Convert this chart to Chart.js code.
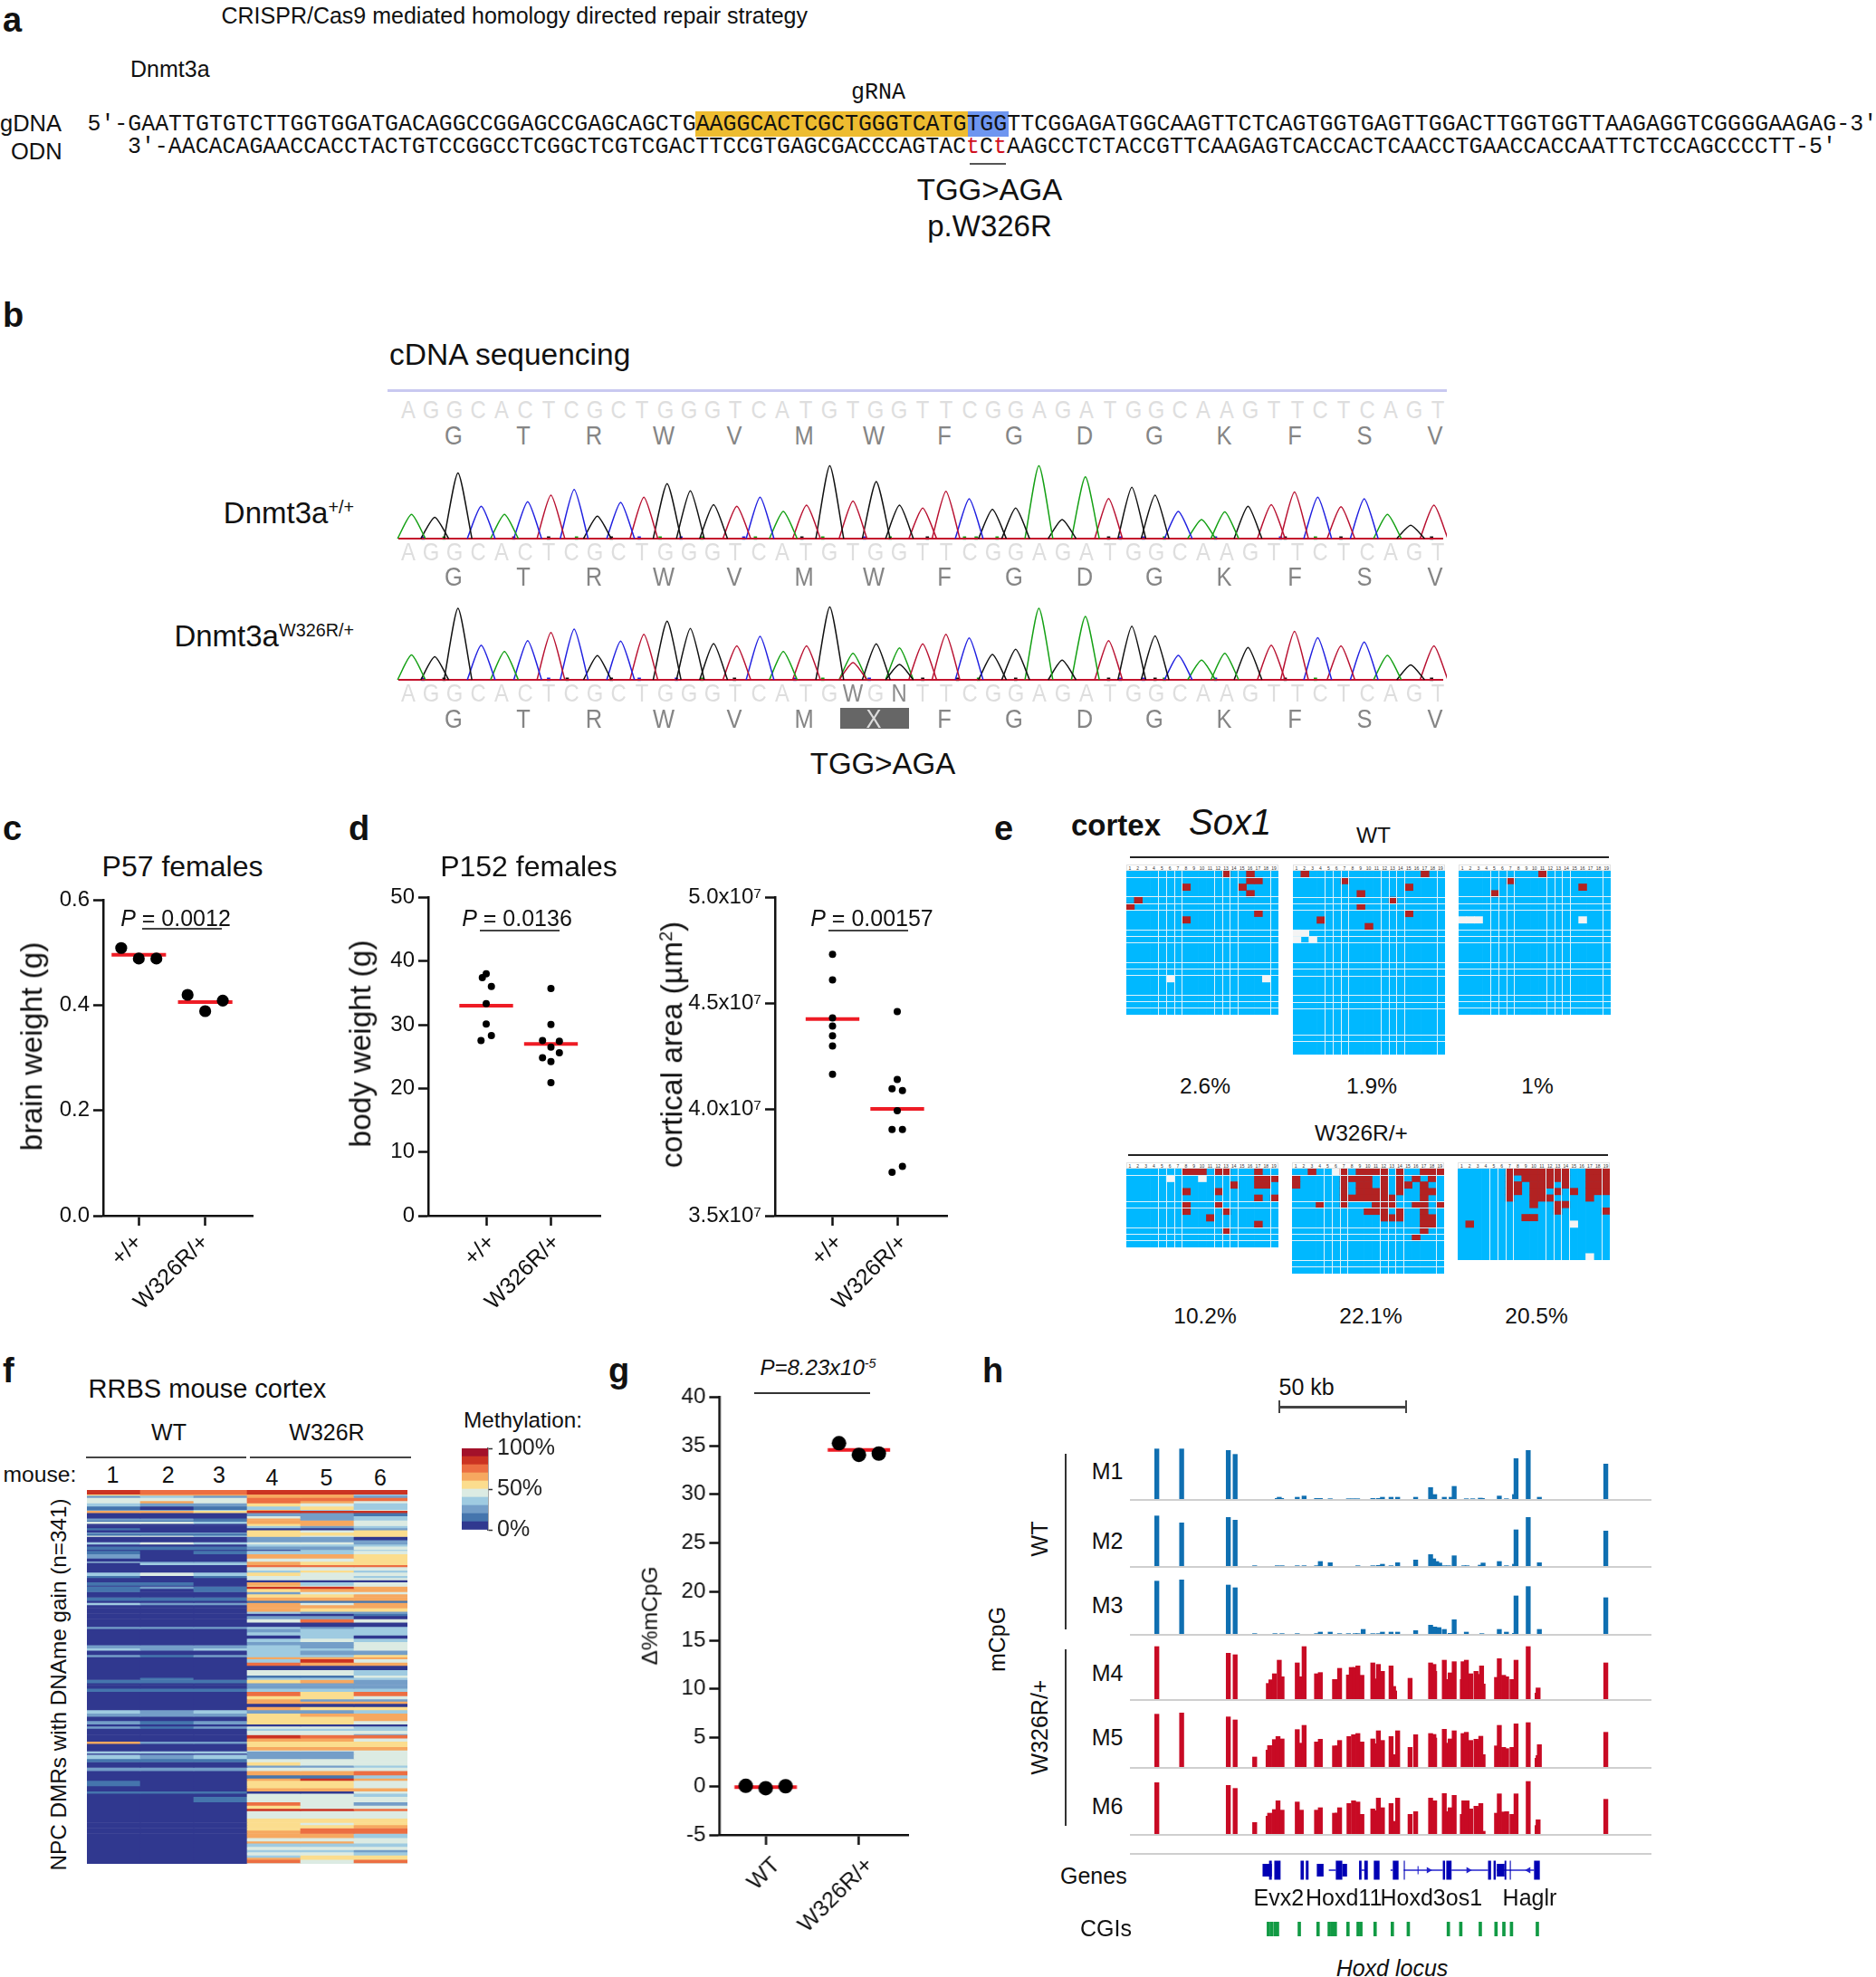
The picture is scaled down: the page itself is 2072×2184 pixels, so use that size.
<!DOCTYPE html>
<html>
<head>
<meta charset="utf-8">
<title>Dnmt3a W326R</title>
<script src="https://cdn.jsdelivr.net/npm/chart.js@4/dist/chart.umd.min.js"></script>
<style>
  html, body { margin: 0; padding: 0; background: #fff; }
  #page { position: relative; width: 2072px; height: 2184px; overflow: hidden; background: #fff; font-family: 'Liberation Sans', Arial, sans-serif; color: #111; }
  #page canvas { position: absolute; }
  .t { position: absolute; line-height: 1; white-space: pre; }
  .t sup { font-size: 0.6em; line-height: 0; vertical-align: 0.55em; }
  .r { position: absolute; }
</style>
</head>
<body>
<div id="page"></div>
<script>
'use strict';

// --- panel a
const gDnaHead = "5′-GAATTGTGTCTTGGTGGATGACAGGCCGGAGCCGAGCAGCTGAAGGCACTCGCTGGGTCATGTGG";
const gDnaTail = "TTCGGAGATGGCAAGTTCTCAGTGGTGAGTTGGACTTGGTGGTTAAGAGGTCGGGGAAGAG-3′";
const odnLeft = "3′-AACACAGAACCACCTACTGTCCGGCCTCGGCTCGTCGACTTCCGTGAGCGACCCAGTAC";
const odnRight = "AAGCCTCTACCGTTCAAGAGTCACCACTCAACCTGAACCACCAATTCTCCAGCCCCTT-5′";

// --- panel b, one letter / one peak per base
const baseCalls = "AGGCACTCGCTGGGTCATGTGGTTCGGAGATGGCAAGTTCTCAGT";
const baseCallsMut = "AGGCACTCGCTGGGTCATGWGNTTCGGAGATGGCAAGTTCTCAGT";
const aminoAcids = ['G','T','R','W','V','M','W','F','G','D','G','K','F','S','V'];
const peaksWt = [84,74,228,112,84,128,151,170,78,126,144,191,166,118,112,144,94,116,253,130,198,116,106,164,138,101,106,253,66,214,139,178,151,94,66,93,112,118,162,144,111,138,84,46,116];
const peaksMut = [86,80,248,120,98,136,164,176,84,134,158,203,178,126,118,151,98,118,253,60,125,53,125,158,145,88,106,248,68,220,136,186,152,85,68,92,112,120,168,146,118,131,85,52,118];
const mutExtraBase = [20,22];
const mutExtraPeak = [92,111];
const lowBlack = [6.9,9.6,17.8,23.2,31,38.6,41,44.9];
const lowBlue = [1.5,10.8,12.6,15.3,20.5,31.5,32.5,35.6,38.4];
const lowGreen = [2.4,8.1,11.7,13.5,15.8,18.7,21.6,24.8,25.3,26.2,33.4,39.9];
const lowBlack2 = [2.4,7.7,9.6,14.9,23,24.5,27,31,33,38.6,44.9];
const lowBlue2 = [1.5,6.9,10.8,12.4,17.5,20.7,31.5,32.5,35.6];
const lowGreen2 = [13.5,18.7,25.4,33.4,39.9];

// --- panels c, d, g
const brainWt = [0.509,0.489,0.489];
const brainMut = [0.42,0.389,0.409];
const brainMedian = [0.496,0.406];
const brainOffset = [-0.265,0,0.265];
const bodyWt = [38.0,37.4,36.0,33.3,30.1,28.3,27.5];
const bodyWtOffset = [0,-0.06,0.08,0,0,0.08,-0.08];
const bodyMut = [35.7,30.05,27.5,27.4,26.5,25.6,24.8,24.2,20.9];
const bodyMutOffset = [0,0,-0.13,0.13,0,0.13,-0.13,0,0];
const bodyMedian = [33.0,27.0];
const areaWt = [4.732e7,4.611e7,4.432e7,4.394e7,4.348e7,4.30e7,4.167e7];
const areaMut = [4.462e7,4.142e7,4.098e7,4.09e7,3.995e7,3.906e7,3.906e7,3.732e7,3.705e7];
const areaMutOffset = [0,0,-0.08,0.08,0,-0.08,0.08,0.08,-0.08];
const areaMedian = [4.427e7,4.003e7];
const mcpgWt = [0.04,-0.2,0];
const mcpgMut = [35.26,34.07,34.2];
const mcpgMedian = [-0.1,34.56];
const mcpgOffset = [-0.2136,0,0.2136];

// --- panel e, cells as [column, row]
const gridCols = [0,1,2,3,4,5,6,7,8,9,10,11,12,13,14,15,16,17,18];
const gridColLines = [4,5,6,7,11,12,13,14,18];
const wtRowLines = [1,4,5,6,9,10,11,14,15,16,19,20,21,25,26];
const mutRowLines = [1,5,6,9,10,11,14,15];
const ctxWt1 = [[12,0],[15,0],[15,1],[16,1],[7,2],[14,2],[15,3],[1,4],[0,5],[16,6],[7,7]];
const ctxWt1Blank = [[5,16],[17,16]];
const ctxWt2 = [[1,0],[16,0],[6,1],[14,2],[8,3],[12,4],[8,5],[14,6],[3,7],[9,8]];
const ctxWt2Blank = [[0,9],[1,9],[0,10],[2,10]];
const ctxWt3 = [[10,0],[6,1],[15,2],[4,3]];
const ctxWt3Blank = [[0,7],[1,7],[2,7],[15,7]];
const ctxMut1 = [[7,0],[8,0],[9,0],[11,0],[12,0],[16,0],[16,1],[17,1],[18,1],[16,2],[17,2],[13,2],[7,3],[11,3],[16,4],[18,4],[7,5],[11,5],[7,6],[12,6],[10,7],[16,8],[12,9]];
const ctxMut1Blank = [[5,1],[9,1]];
const ctxMut2 = [[2,0],[6,0],[8,0],[9,0],[10,0],[11,0],[13,0],[16,0],[17,0],[18,0],
  [0,1],[6,1],[7,1],[8,1],[9,1],[11,1],[13,1],[15,1],[17,1],
  [0,2],[6,2],[8,2],[9,2],[11,2],[13,2],[14,2],[16,2],
  [6,3],[8,3],[9,3],[10,3],[11,3],[13,3],[16,3],[17,3],
  [6,4],[7,4],[8,4],[9,4],[10,4],[11,4],[12,4],[16,4],
  [3,5],[6,5],[10,5],[11,5],[12,5],[15,5],[16,5],[18,5],
  [9,6],[10,6],[11,6],[13,6],[16,6],
  [11,7],[12,7],[13,7],[16,7],[17,7],[16,8],[17,8],[16,9],[15,10]];
const ctxMut2Blank = [[5,0]];
const ctxMut3 = [[6,0],[7,0],[8,0],[9,0],[10,0],[11,0],[12,0],[13,0],[16,0],[17,0],[18,0],
  [6,1],[8,1],[9,1],[10,1],[11,1],[12,1],[13,1],[16,1],[17,1],[18,1],
  [6,2],[7,2],[9,2],[10,2],[11,2],[13,2],[16,2],[17,2],[18,2],
  [6,3],[7,3],[9,3],[10,3],[12,3],[14,3],[16,3],[17,3],[18,3],
  [6,4],[9,4],[10,4],[11,4],[16,4],
  [9,5],[12,5],[13,5],[12,6],[18,6],[8,7],[9,7],[1,8]];
const ctxMut3Blank = [[14,8],[16,13]];

// --- panel f, bands read top to bottom: [rows, mouse 1..6] in % methylation
const heatUpper = [
  [4,88,78,78,85,88,80],[1,55,62,62,65,62,30],[2,25,35,22,62,62,28],[3,45,45,45,78,72,75],[2,48,62,45,70,68,45],
  [3,30,28,28,52,45,35],[3,15,8,15,30,55,35],[1,25,25,35,62,30,42],[2,62,62,55,82,82,80],[3,8,8,8,25,20,15],
  [2,8,8,8,45,25,30],[2,25,22,18,62,20,30],[1,12,12,12,62,62,45],[2,45,45,35,62,62,48],[2,8,8,8,55,60,48],
  [2,5,5,5,30,25,30],[2,15,5,5,8,8,20],[2,5,5,5,52,45,52],[1,25,25,25,52,52,52],[2,15,15,15,52,52,52],
  [1,45,45,30,52,45,52],[3,5,5,5,25,25,8],[2,5,5,5,25,25,25],[2,35,42,35,45,45,20],[2,8,8,8,30,30,30],
  [3,15,15,15,25,28,45],[1,5,5,5,8,30,30],[3,15,5,15,35,35,45],[4,22,5,5,62,62,52],[3,5,5,5,45,45,52],
  [1,32,25,25,62,52,52],[2,8,32,32,62,52,52],[2,5,5,5,72,72,72],[3,5,5,5,45,45,45],[2,5,5,5,30,55,35],
  [3,32,45,32,52,40,40],[2,18,5,18,45,40,30],[2,5,5,5,45,45,45],[2,5,5,5,8,8,8],[3,18,18,5,65,30,45],
  [1,5,5,5,55,45,42],[2,18,22,18,82,82,65],[3,18,5,15,55,62,65],[2,5,5,5,22,45,45],[3,5,5,5,58,55,62],
  [3,18,15,15,62,62,65],[2,5,5,5,15,15,15],[2,35,25,25,62,45,62],[3,5,5,5,62,62,62],[3,5,5,5,62,55,58],
  [2,5,5,5,30,25,25],[2,5,5,5,8,8,15],[3,5,5,5,25,20,8],[3,5,5,5,45,72,45],[4,5,5,5,8,8,8],
  [2,25,25,25,30,20,30],[3,5,5,5,25,35,35],[3,5,5,5,35,35,35],[3,5,5,5,8,30,8],[3,5,5,5,35,40,35],
  [3,5,5,5,25,25,45],[3,22,25,25,30,25,45],[2,32,25,30,30,30,45],[4,5,5,5,30,20,20],[2,22,18,22,30,30,52],
  [2,5,5,5,68,68,62],[3,5,5,5,35,80,40],[3,5,5,5,72,62,62],[4,5,5,5,5,5,5],[5,5,5,5,45,45,35]
];
const heatLower = [
  [2,5,5,5,10,10,42],[2,5,18,5,35,35,30],[3,18,15,15,55,62,25],[2,5,5,5,28,28,28],[3,5,5,5,25,25,25],
  [3,18,18,18,35,35,35],[4,5,5,5,72,52,72],[3,5,5,5,52,52,45],[2,5,5,5,62,20,20],[2,5,5,5,62,62,62],
  [3,5,5,5,8,8,8],[3,5,5,5,65,52,55],[3,32,25,32,25,25,35],[3,25,25,25,52,62,65],[4,5,5,5,52,52,62],
  [3,25,18,25,52,52,45],[2,5,5,5,8,8,8],[2,22,18,22,42,42,35],[2,5,5,5,30,30,35],[3,5,5,5,45,45,45],
  [1,5,5,5,45,45,25],[3,5,5,5,85,72,72],[3,5,5,5,65,62,42],[2,60,25,25,58,58,58],[3,5,5,5,58,58,58],
  [3,5,5,5,65,65,60],[1,5,5,5,45,45,45],[2,32,32,32,25,25,45],[1,5,5,5,25,25,45],[4,38,28,38,20,20,45],
  [3,15,15,15,48,42,42],[3,5,5,5,52,42,42],[2,5,5,5,25,25,30],[3,28,25,28,42,40,42],[4,5,5,5,68,62,70],
  [3,5,5,5,18,18,35],[2,5,5,5,68,80,62],[5,15,5,5,52,52,42],[2,5,5,5,58,58,45],[3,5,5,5,68,68,68],
  [2,18,18,18,5,5,45],[3,5,5,5,40,40,30],[5,5,5,15,42,42,42],[3,5,5,5,78,42,20],[3,5,5,5,55,45,42],
  [2,5,5,5,80,82,78],[7,5,5,5,42,42,42],[4,5,5,5,52,52,52],[2,5,5,5,52,48,52],[3,5,5,5,52,52,65],
  [2,5,5,5,52,72,72],[3,5,5,5,68,75,75],[4,5,5,5,62,62,30],[3,5,5,5,42,42,42],[2,5,5,5,62,62,42],
  [3,5,5,5,35,35,30],[3,5,5,5,42,42,40],[2,5,5,5,35,35,22],[3,5,5,5,45,45,35],[2,5,5,5,30,52,52],
  [2,5,5,5,62,52,52],[3,5,5,5,75,45,75],[1,5,5,5,45,45,45]
];
const mouseLabels = ['1','2','3','4','5','6'];
const heatColors = ['#30388f','#4575ad','#749ec8','#9fcbe1','#dcebe3','#fbdd8e','#f6a860','#ec6e42','#cb3322','#a3112a'];

// --- panel h, position in kb from the left end of the track, signal in track units
const m1Pos = [10.6,20.4,38.8,41.5,58.1,58.9,59.8,66,68.7,73.6,75.1,79,86.2,88,89.8,95.8,98,99.6,103,105.6,112.7,118.6,120.2,124,126.7,127.9,132.7,135.2,138.2,139,145.7,148.5,151.7,152.3,157.1,161.5,187.7];
const m1Val = [169,169,164,151,5,9,5,9,13,5,5,4,4,4,4,5,5,9,9,9,9,41,18,9,9,45,4,4,6,5,13,4,18,137,164,9,119];
const m2Pos = [10.6,20.4,38.8,41.5,49.2,58.1,60,66,68.7,73.6,75.1,79,89.9,95.8,98,99.6,103,105.6,112.7,118.6,119.8,121,122.2,124,125.7,127.9,131.7,133,138.2,139.3,145.7,148.5,151.7,152.3,157.1,161.5,187.7];
const m2Val = [169,146,164,155,4,4,4,4,4,4,18,14,4,4,5,9,4,14,23,41,27,18,13,4,4,37,4,4,6,13,18,4,9,123,164,14,119];
const m3Pos = [10.6,20.4,38.8,41.5,49.2,57.2,60,66,73.6,75.1,79,82.7,86.2,88.8,89.9,92,95.8,98,99.6,103,105.6,112.7,118.6,120.2,121.9,124,126.3,127.9,132.7,138.8,145.7,148.5,151.7,152.3,157.1,161.5,187.7];
const m3Val = [178,182,165,156,4,4,4,4,4,9,9,4,4,4,4,18,4,4,9,9,9,14,32,26,24,18,5,50,9,4,18,9,5,129,160,18,123];
const m4Pos = [10.6,38.8,41.5,54.6,55.6,57,58.9,60,66,67.4,68.7,73.6,75.1,80.7,81.7,82.7,86.2,87.3,88.8,89.9,91.5,95.8,97,98,99.6,103,104,104.4,110.5,118.6,119.9,120.2,124,125.5,126.3,127.9,131.1,131.4,132.7,134.4,136.5,137.6,138.7,139.3,144.6,145.7,147.4,148.6,150.7,152.3,157.1,160.6,161,187.7];
const m4Val = [177,155,150,55,67,87,132,77,123,77,177,87,91,68,68,105,83,108,108,113,82,123,70,118,95,113,45,30,72,123,118,95,132,68,90,127,68,127,132,87,95,85,113,53,75,137,82,77,68,132,177,23,40,123];
const m5Pos = [10.6,20.4,38.8,41.5,49.2,54.5,55.1,57,58.4,60,66,67.4,68.7,73.6,75.1,80.7,81.7,82.7,86.4,88.2,89.9,91.5,95.8,97,98,99.6,103,104,104.4,105.6,110.5,112.7,118.6,119.9,120.2,124,125.5,126.3,127.9,131.4,132.7,134.4,136.5,137.5,138.4,139.3,144.6,145.7,147.4,148.6,150.7,152.3,157.1,160.6,161,161.5,187.7];
const m5Val = [178,182,169,159,36,59,74,94,104,96,127,82,141,86,95,73,73,91,104,110,114,86,96,80,123,91,104,44,34,123,68,110,114,111,99,128,82,96,123,114,118,91,95,90,105,44,73,141,68,64,68,146,150,32,41,77,118];
const m6Pos = [10.6,38.8,41.5,49.2,54.5,55.1,57,58.4,60,66,67.6,73.6,75.1,80.7,81.7,82.7,86.4,88.2,89.9,91.5,95.8,97,98,99.6,103,104,104.4,105.6,110.5,112.7,118.6,120.2,124,125.5,126.3,127.9,131.1,131.7,133,134.4,136.5,137.5,138.4,139.3,144.6,145.7,147.4,148.6,150.7,152.3,157.1,160.6,161,187.7];
const m6Val = [173,164,154,41,62,72,84,113,82,109,82,82,90,72,72,90,104,113,109,68,86,80,122,90,104,45,37,122,68,77,122,113,137,77,90,131,68,113,113,86,95,90,104,12,72,136,76,77,68,136,177,31,50,118];
const tallExons = [[54.2,55.3],[56.3,58.8],[66.8,68.1],[68.9,70],[80.9,83.5],[90.2,91.2],[92.3,93.7],[96.1,98.4],[103.7,106],[108.1,108.5],[123.7,124.6],[125.1,127.2],[141.8,143],[144,144.9],[148.4,149.1],[150.5,150.9],[160.2,162.5]];
const midExons = [[51.6,55.3],[73.3,76],[83.5,85.4],[145.3,148.4]];
const thinExons = [[113.6,114]];
const introns = [[78.1,80.9],[91.2,92.3],[102.8,103.7],[108.1,123.7],[127.2,141.8],[145.3,160.2]];
const arrowsRight = [118,133.9];
const arrowsLeft = [158];
const cgiPos = [54.6,55.8,57.2,58.2,66.8,74.2,78.6,79.8,81,86,90,91.1,96.7,103.5,109.8,125.6,130.5,138.2,144.4,147.5,150.5,160.7];

const FONT = "'Liberation Sans', Arial, sans-serif";
const MONO = "'Liberation Mono', monospace";
Chart.defaults.font.family = FONT;
Chart.defaults.color = '#111';
Chart.defaults.animation = false;
Chart.defaults.responsive = false;
Chart.defaults.devicePixelRatio = 1;
Chart.defaults.plugins.legend.display = false;
Chart.defaults.plugins.tooltip.enabled = false;

const page = document.getElementById('page');

function text(str, x, y, opts) {
  opts = opts || {};
  let el = document.createElement('div');
  el.className = 't';
  el.innerHTML = str;
  el.style.left = x + 'px';
  el.style.top = y + 'px';
  el.style.fontSize = (opts.size || 25) + 'px';
  if (opts.family) el.style.fontFamily = opts.family;
  if (opts.bold) el.style.fontWeight = 'bold';
  if (opts.italic) el.style.fontStyle = 'italic';
  if (opts.color) el.style.color = opts.color;
  let tx = opts.align === 'l' ? '0' : opts.align === 'r' ? '-100%' : '-50%';
  el.style.transform = 'translate(' + tx + ',-50%)' + (opts.rot ? ' rotate(' + opts.rot + 'deg)' : '') + (opts.sx ? ' scaleX(' + opts.sx + ')' : '');
  page.appendChild(el);
  return el;
}

function rect(x, y, w, h, color) {
  let el = document.createElement('div');
  el.className = 'r';
  el.style.cssText = 'left:' + x + 'px;top:' + y + 'px;width:' + w + 'px;height:' + h + 'px;background:' + color;
  page.appendChild(el);
  return el;
}

function canvas(x, y, w, h) {
  let c = document.createElement('canvas');
  c.width = w;
  c.height = h;
  c.style.left = x + 'px';
  c.style.top = y + 'px';
  c.style.width = w + 'px';
  c.style.height = h + 'px';
  page.appendChild(c);
  return c;
}

// panel letters
[['a',3,22],['b',3,348],['c',3,915],['d',385,915],['e',1098,915],['f',3,1514],['g',672,1514],['h',1085,1514]].forEach(function (l) {
  text(l[0], l[1], l[2], { size: 38, bold: true, align: 'l' });
});

// ---------- panel a
const TAIL = '<span style="letter-spacing:0.08px">';
text('CRISPR/Cas9 mediated homology directed repair strategy', 244.5, 17, { size: 25, align: 'l' });
text('Dnmt3a', 144, 76, { size: 25, align: 'l' });
text('gRNA', 970, 102, { size: 25, family: MONO });
text('gDNA', 0, 137, { size: 25.5, align: 'l' });
text('ODN', 12, 168, { size: 25.5, align: 'l' });
rect(768, 123, 301, 28, '#eebc30');
rect(1069, 123, 45, 28, '#6e96f0');
text(gDnaHead + TAIL + gDnaTail + '</span>', 96.5, 137, { size: 24.9, family: MONO, align: 'l' });
text(odnLeft + '<span style="color:#d01020">t</span>C<span style="color:#d01020">t</span>' + TAIL + odnRight + '</span>', 141, 162, { size: 24.9, family: MONO, align: 'l' });
rect(1071, 180, 40, 2, '#555');
text('TGG&gt;AGA', 1093, 209, { size: 33 });
text('p.W326R', 1093, 249, { size: 33 });

// ---------- panel b
text('cDNA sequencing', 430, 392, { size: 33.5, align: 'l' });
rect(428, 430, 1170, 2.5, '#c9c9f0');

const BASE_X0 = 450.6, BASE_PITCH = 25.84, AA_X0 = 501, AA_PITCH = 77.4;
function letterRows(seq, y, mut) {
  seq.split('').forEach(function (ch, i) {
    let dark = mut && (ch === 'W' || ch === 'N');
    text(ch, BASE_X0 + i * BASE_PITCH, y, { size: 28, sx: 0.85, color: dark ? '#8a8a8a' : '#dedede' });
  });
}
function aaRow(y, mut) {
  aminoAcids.forEach(function (ch, i) {
    let isX = mut && i === 6;
    text(isX ? 'X' : ch, AA_X0 + i * AA_PITCH, y, { size: 30, sx: 0.85, color: isX ? '#dcdcdc' : '#858585' });
  });
}

const DYE = { A: '#14a014', C: '#2020e0', G: '#111111', T: '#b81030', W: '#b81030', N: '#111111' };

function peakDataset(pos, h, color) {
  return {
    type: 'line',
    data: [{ x: pos - 0.6, y: 0 }, { x: pos, y: h }, { x: pos + 0.6, y: 0 }],
    borderColor: color, borderWidth: 1.5, pointRadius: 0, tension: 0.22, clip: false
  };
}
function lowMarks(xs, color) {
  return {
    type: 'scatter',
    data: xs.map(function (x) { return { x: x, y: 2 }; }),
    pointStyle: 'rect', pointRadius: 2.6, backgroundColor: color, borderColor: color, borderWidth: 0, clip: false
  };
}
function traceChart(baseY, seq, heights, extras, lows) {
  let ds = [];
  heights.forEach(function (h, i) { ds.push(peakDataset(i + 1, h, DYE[seq[i]])); });
  extras.forEach(function (e) { ds.push(peakDataset(e[0], e[1], DYE.A)); });
  ds.push({
    type: 'line',
    data: [{ x: 0.435, y: 0 }, { x: 45.4, y: 0 }],
    borderColor: '#c4122c', borderWidth: 2.2, pointRadius: 0, clip: false
  });
  lows.forEach(function (l) { ds.push(lowMarks(l[0], l[1])); });
  new Chart(canvas(436, baseY - 100, 1162, 106), {
    type: 'line',
    data: { datasets: ds },
    options: {
      layout: { padding: { bottom: 6 } },
      scales: {
        x: { type: 'linear', display: false, min: 0.435, max: 45.4 },
        y: { display: false, min: 0, max: 301.5 }
      }
    }
  });
}

letterRows(baseCalls, 453);
aaRow(481);
traceChart(594.5, baseCalls, peaksWt, [], [[lowBlack, '#111'], [lowBlue, '#2020e0'], [lowGreen, '#14a014'], [[5.4], '#a01020']]);
letterRows(baseCalls, 609.5);
aaRow(637);
traceChart(751, baseCalls, peaksMut, mutExtraBase.map(function (b, i) { return [b, mutExtraPeak[i]]; }), [[lowBlack2, '#111'], [lowBlue2, '#2020e0'], [lowGreen2, '#14a014']]);
letterRows(baseCallsMut, 766, true);
rect(927.6, 782, 76.4, 23, '#666');
aaRow(794, true);
text('TGG&gt;AGA', 975, 843, { size: 33 });
text('Dnmt3a<sup>+/+</sup>', 391, 566, { size: 33, align: 'r' });
text('Dnmt3a<sup>W326R/+</sup>', 391, 702, { size: 33, align: 'r' });

// ---------- dot plots c, d, g
function dotPanel(o) {
  const tickPx = o.xTicks[1] - o.xTicks[0];
  const xMin = 1 - (o.xTicks[0] - o.left) / tickPx;
  const xMax = 1 + (o.right - o.xTicks[0]) / tickPx;
  const padL = 130, padB = 130, padT = 16, padR = 10;
  const ds = [
    { data: o.wt.map(function (v, i) { return { x: 1 + o.wtOffset[i], y: v }; }) },
    { data: o.mut.map(function (v, i) { return { x: 2 + o.mutOffset[i], y: v }; }) }
  ].map(function (d) {
    d.backgroundColor = '#000'; d.borderWidth = 0; d.pointRadius = o.radius; d.clip = false;
    return d;
  });
  o.medians.forEach(function (m, i) {
    ds.push({
      data: [{ x: i + 1 - o.medianHalf, y: m }, { x: i + 1 + o.medianHalf, y: m }],
      showLine: true, borderColor: '#ee1c25', borderWidth: o.medianWidth, pointRadius: 0, clip: false
    });
  });
  new Chart(canvas(o.left - padL, o.top - padT, o.right - o.left + padL + padR, o.bottom - o.top + padT + padB), {
    type: 'scatter',
    data: { datasets: ds },
    options: {
      layout: { padding: { top: padT, right: padR, left: 0, bottom: 0 } },
      scales: {
        x: {
          type: 'linear', min: xMin, max: xMax,
          afterBuildTicks: function (s) { s.ticks = [{ value: 1 }, { value: 2 }]; },
          afterFit: function (s) { s.height = padB; },
          border: { color: '#111', width: 2.5 },
          grid: { drawOnChartArea: false, drawTicks: true, tickLength: 11, tickColor: '#111', tickWidth: 2.5 },
          ticks: {
            autoSkip: false, minRotation: 45, maxRotation: 45, padding: o.xPad, labelOffset: o.xShift, color: '#111',
            font: { size: o.xTickSize },
            callback: function (v) { return o.xLabels[v - 1]; }
          }
        },
        y: {
          min: o.yMin, max: o.yMax,
          afterFit: function (s) { s.width = padL; },
          border: { color: '#111', width: 2.5 },
          grid: { drawOnChartArea: false, drawTicks: true, tickLength: 11, tickColor: '#111', tickWidth: 2.5 },
          ticks: { stepSize: o.yStep, padding: 4, color: '#111', font: { size: o.tickSize }, callback: o.yFormat }
        }
      }
    }
  });
}

const genotypeLabels = ['+/+', 'W326R/+'];
dotPanel({
  left: 113.6, right: 279, top: 992, bottom: 1343, xTicks: [153, 226.5],
  wt: brainWt, mut: brainMut, wtOffset: brainOffset, mutOffset: brainOffset, medians: brainMedian,
  medianHalf: 0.41, medianWidth: 4, radius: 6.6, yMin: 0, yMax: 0.6, yStep: 0.2, tickSize: 24, xTickSize: 25, xPad: 4, xShift: 0,
  xLabels: genotypeLabels, yFormat: function (v) { return v.toFixed(1); }
});
dotPanel({
  left: 473, right: 663, top: 989, bottom: 1343, xTicks: [537, 608.5],
  wt: bodyWt, mut: bodyMut, wtOffset: bodyWtOffset, mutOffset: bodyMutOffset, medians: bodyMedian,
  medianHalf: 0.415, medianWidth: 4, radius: 4, yMin: 0, yMax: 50, yStep: 10, tickSize: 24, xTickSize: 25, xPad: 4, xShift: 6,
  xLabels: genotypeLabels, yFormat: function (v) { return v; }
});
dotPanel({
  left: 856, right: 1046, top: 989, bottom: 1343, xTicks: [919.5, 991],
  wt: areaWt, mut: areaMut, wtOffset: [0,0,0,0,0,0,0], mutOffset: areaMutOffset, medians: areaMedian,
  medianHalf: 0.415, medianWidth: 4, radius: 4, yMin: 3.5e7, yMax: 5e7, yStep: 0.5e7, tickSize: 24, xTickSize: 25, xPad: 4, xShift: 7,
  xLabels: genotypeLabels, yFormat: function (v) { return (v / 1e7).toFixed(1) + 'x10⁷'; }
});
dotPanel({
  left: 794, right: 1002.7, top: 1541, bottom: 2027.4, xTicks: [845.3, 948.3],
  wt: mcpgWt, mut: mcpgMut, wtOffset: mcpgOffset, mutOffset: mcpgOffset, medians: mcpgMedian,
  medianHalf: 0.335, medianWidth: 4, radius: 8, yMin: -5, yMax: 40, yStep: 5, tickSize: 24, xTickSize: 25, xPad: 8, xShift: 12,
  xLabels: ['WT', 'W326R/+'], yFormat: function (v) { return v; }
});

text('P57 females', 201.5, 957, { size: 32 });
text('P152 females', 584, 957, { size: 32 });
text('brain weight (g)', 35, 1156, { size: 33.5, rot: -90 });
text('body weight (g)', 397.6, 1153, { size: 33.5, rot: -90 });
text('cortical area (µm<sup>2</sup>)', 742, 1153.6, { size: 33.5, rot: -90 });
text('<i>P</i> = 0.0012', 194, 1013.6, { size: 25 });
text('<i>P</i> = 0.0136', 571, 1013.6, { size: 25 });
text('<i>P</i> = 0.00157', 963, 1013.6, { size: 25 });
rect(157, 1024.5, 88, 2.5, '#444');
rect(530, 1026.5, 88, 2.5, '#444');
rect(915, 1026.5, 88, 2.5, '#444');

text('<i>P=8.23x10<sup>-5</sup></i>', 903.5, 1511, { size: 24 });
rect(833, 1538, 128, 2, '#333');
text('Δ%mCpG', 718, 1785, { size: 24.5, rot: -90 });

// ---------- panel e
function gridPanel(x, y, rows, cells, blanks, colLines, rowLines) {
  const w = 168, h = rows * 7.233;
  rect(x, y - 7, w, 7, '#fff').style.boxShadow = 'inset 0 0 0 1px #e2e2e2';
  gridCols.forEach(function (c) {
    text(String(c + 1), x + (c + 0.5) * w / 19, y - 3.5, { size: 5, color: '#333' });
  });
  const toBar = function (p) { return { x: p[0] + 0.5, y: [p[1], p[1] + 1] }; };
  new Chart(canvas(x, y, w, Math.round(h)), {
    type: 'bar',
    data: {
      datasets: [
        { data: cells.map(toBar), backgroundColor: '#b22222', grouped: false, barPercentage: 1, categoryPercentage: 1, order: 1 },
        { data: blanks.map(toBar), backgroundColor: '#f4f4f4', grouped: false, barPercentage: 1, categoryPercentage: 1, order: 2 },
        { data: gridCols.map(function (c) { return { x: c + 0.5, y: [0, rows] }; }), backgroundColor: '#00b8ff', grouped: false, barPercentage: 1, categoryPercentage: 1, order: 3 }
      ]
    },
    options: {
      layout: { padding: 0 },
      scales: {
        x: {
          type: 'linear', min: 0, max: 19, offset: false,
          afterBuildTicks: function (s) { s.ticks = colLines.map(function (v) { return { value: v }; }); },
          afterFit: function (s) { s.height = 0; },
          border: { display: false },
          grid: { z: 1, offset: false, color: '#dff3fb', lineWidth: 1, drawTicks: false },
          ticks: { display: false }
        },
        y: {
          min: 0, max: rows, reverse: true,
          afterBuildTicks: function (s) { s.ticks = rowLines.filter(function (v) { return v < rows; }).map(function (v) { return { value: v }; }); },
          afterFit: function (s) { s.width = 0; },
          border: { display: false },
          grid: { z: 1, color: '#dff3fb', lineWidth: 1, drawTicks: false },
          ticks: { display: false }
        }
      }
    }
  });
}

text('cortex', 1183, 911, { size: 33, bold: true, align: 'l' });
text('Sox1', 1313, 908, { size: 40, italic: true, align: 'l' });
text('WT', 1517, 922.5, { size: 24.5 });
rect(1247.5, 945.5, 529.5, 2, '#222');
gridPanel(1243.5, 962, 22, ctxWt1, ctxWt1Blank, gridColLines, wtRowLines);
gridPanel(1427.5, 962, 28, ctxWt2, ctxWt2Blank, gridColLines, wtRowLines);
gridPanel(1610.7, 962, 22, ctxWt3, ctxWt3Blank, gridColLines, wtRowLines);
text('2.6%', 1331, 1200, { size: 24.5 });
text('1.9%', 1515, 1200, { size: 24.5 });
text('1%', 1698, 1200, { size: 24.5 });
text('W326R/+', 1503.5, 1251.6, { size: 24.5 });
rect(1246, 1275, 529.5, 2, '#222');
gridPanel(1243.5, 1291, 12, ctxMut1, ctxMut1Blank, gridColLines, mutRowLines);
gridPanel(1426.7, 1291, 16, ctxMut2, ctxMut2Blank, gridColLines, mutRowLines);
gridPanel(1610, 1291, 14, ctxMut3, ctxMut3Blank, gridColLines, []);
text('10.2%', 1331, 1453.7, { size: 24.5 });
text('22.1%', 1514, 1453.7, { size: 24.5 });
text('20.5%', 1697, 1453.7, { size: 24.5 });

// ---------- panel f
function heatColor(v) { return heatColors[Math.min(9, Math.floor(v / 10))]; }
const heatBands = heatUpper.concat(heatLower);
const heatRowTotal = heatBands.reduce(function (s, b) { return s + b[0]; }, 0);
new Chart(canvas(96, 1646, 354, 413), {
  type: 'bar',
  data: {
    labels: mouseLabels,
    datasets: heatBands.map(function (b) {
      return {
        data: mouseLabels.map(function () { return b[0]; }),
        backgroundColor: b.slice(1).map(heatColor),
        barPercentage: 1, categoryPercentage: 1, stack: 'rows'
      };
    })
  },
  options: {
    layout: { padding: 0 },
    scales: {
      x: { display: false, stacked: true },
      y: { display: false, stacked: true, min: 0, max: heatRowTotal, reverse: true }
    }
  }
});
text('RRBS mouse cortex', 97.6, 1534, { size: 29, align: 'l' });
text('WT', 186.5, 1581.6, { size: 25 });
text('W326R', 361, 1581.6, { size: 25 });
rect(94.5, 1609, 177, 2, '#444');
rect(276, 1609, 178, 2, '#444');
text('mouse:', 3.5, 1629.4, { size: 24.7, align: 'l' });
[[124.5,1629.4],[185.6,1629.4],[242,1629.4],[300.5,1631.7],[360.4,1631.7],[420,1631.7]].forEach(function (p, i) {
  text(mouseLabels[i], p[0], p[1], { size: 25 });
});
text('NPC DMRs with DNAme gain (n=341)', 65, 1861, { size: 24.3, rot: -90 });
text('Methylation:', 512, 1569, { size: 24.3, align: 'l' });

// colour key, ten bands over 0-100 %
new Chart(canvas(509, 1580, 110, 130), {
  type: 'bar',
  data: {
    labels: [''],
    datasets: heatColors.map(function (c) {
      return { data: [10], backgroundColor: c, barPercentage: 1, categoryPercentage: 1, stack: 'key' };
    })
  },
  options: {
    layout: { padding: { top: 15, bottom: 15, left: 1, right: 0 } },
    scales: {
      x: { display: false, stacked: true },
      y: {
        position: 'right', stacked: true, min: 0, max: 100,
        afterFit: function (s) { s.width = 80; },
        border: { color: '#555', width: 1.5 },
        grid: { drawOnChartArea: false, drawTicks: true, tickLength: 5, tickColor: '#333', tickWidth: 1.5 },
        ticks: { stepSize: 50, padding: 5, color: '#222', font: { size: 25 }, callback: function (v) { return v + '%'; } }
      }
    }
  }
});

// ---------- panel h
const TRACK_X = 1248, TRACK_W = 576, KB_MAX = TRACK_W / 2.8;
function trackChart(baseY, pos, val, color) {
  new Chart(canvas(TRACK_X, baseY - 61, TRACK_W, 62), {
    type: 'bar',
    data: {
      datasets: [
        { type: 'line', data: [{ x: 0, y: 0 }, { x: KB_MAX, y: 0 }], borderColor: '#cfcfcf', borderWidth: 2, pointRadius: 0, clip: false },
        { data: pos.map(function (x, i) { return { x: x, y: val[i] }; }), backgroundColor: color, barThickness: 4.7 }
      ]
    },
    options: {
      layout: { padding: { top: 0, bottom: 1 } },
      scales: {
        x: { type: 'linear', display: false, offset: false, min: 0, max: KB_MAX },
        y: { display: false, min: 0, max: 183 }
      }
    }
  });
}
const BLUE = '#0f6fb1', RED = '#c80a24';
trackChart(1656.7, m1Pos, m1Val, BLUE);
trackChart(1731.3, m2Pos, m2Val, BLUE);
trackChart(1806, m3Pos, m3Val, BLUE);
trackChart(1878.3, m4Pos, m4Val, RED);
trackChart(1953, m5Pos, m5Val, RED);
trackChart(2027.3, m6Pos, m6Val, RED);
rect(1248, 2046.5, 576, 2, '#cfcfcf');

function segSet(segs, width, color) {
  return segs.map(function (s) {
    return { data: [{ x: s[0], y: 0.5 }, { x: s[1], y: 0.5 }], borderColor: color, borderWidth: width, pointRadius: 0, borderCapStyle: 'butt', clip: false };
  });
}
new Chart(canvas(TRACK_X, 2050, TRACK_W, 32), {
  type: 'line',
  data: {
    datasets: segSet(tallExons, 21, '#0000b4')
      .concat(segSet(midExons, 14, '#0000b4'))
      .concat(segSet(thinExons, 9, '#2222cc'))
      .concat(segSet(introns, 1.6, '#2222cc'))
      .concat([
        { data: arrowsRight.map(function (x) { return { x: x, y: 0.5 }; }), showLine: false, pointStyle: 'triangle', pointRotation: 90, pointRadius: 4, backgroundColor: '#2222cc', borderWidth: 0 },
        { data: arrowsLeft.map(function (x) { return { x: x, y: 0.5 }; }), showLine: false, pointStyle: 'triangle', pointRotation: -90, pointRadius: 4, backgroundColor: '#2222cc', borderWidth: 0 }
      ])
  },
  options: {
    layout: { padding: 0 },
    scales: {
      x: { type: 'linear', display: false, min: 0, max: KB_MAX },
      y: { display: false, min: 0, max: 1 }
    }
  }
});
new Chart(canvas(TRACK_X, 2123, TRACK_W, 16), {
  type: 'bar',
  data: { datasets: [{ data: cgiPos.map(function (x) { return { x: x, y: 1 }; }), backgroundColor: '#119a44', barThickness: 3 }] },
  options: {
    layout: { padding: 0 },
    scales: {
      x: { type: 'linear', display: false, offset: false, min: 0, max: KB_MAX },
      y: { display: false, min: 0, max: 1 }
    }
  }
});

text('50 kb', 1412.5, 1532, { size: 25, align: 'l' });
rect(1412.5, 1553, 140, 2.5, '#444');
rect(1412, 1547, 2, 14, '#444');
rect(1551.5, 1547, 2, 14, '#444');
[['M1',1625],['M2',1701.6],['M3',1773],['M4',1847.7],['M5',1918.5],['M6',1994.6]].forEach(function (m) {
  text(m[0], 1223, m[1], { size: 25 });
});
text('WT', 1148, 1700, { size: 25, rot: -90 });
text('W326R/+', 1148, 1908, { size: 25, rot: -90 });
text('mCpG', 1101, 1811, { size: 25, rot: -90 });
rect(1176, 1606, 2, 194, '#333');
rect(1176, 1822, 2, 195, '#333');
text('Genes', 1171, 2072, { size: 25, align: 'l' });
text('CGIs', 1193, 2129.7, { size: 25, align: 'l' });
text('Evx2', 1384.5, 2095.6, { size: 25, align: 'l' });
text('Hoxd11', 1442, 2095.6, { size: 25, align: 'l' });
text('Hoxd3os1', 1524.5, 2095.6, { size: 25, align: 'l' });
text('Haglr', 1659.6, 2095.6, { size: 25, align: 'l' });
text('Hoxd locus', 1537.5, 2174, { size: 25, italic: true });
</script>
</body>
</html>
